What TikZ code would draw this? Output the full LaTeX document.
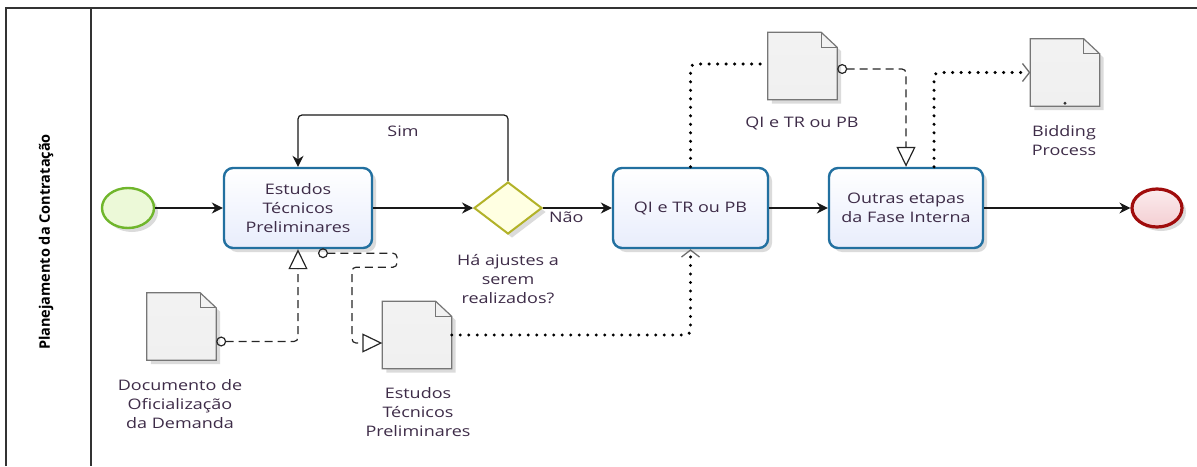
\documentclass[tikz,border=0pt]{standalone}
\usepackage{fontspec}
\setmainfont{Open Sans}[FakeStretch=1.24]
\newfontfamily\lanefont{Open Sans}
\usetikzlibrary{arrows.meta,shapes.geometric,shadows}

\definecolor{taskblue}{RGB}{34,112,160}
\definecolor{taskfill}{RGB}{232,237,252}
\definecolor{startgreen}{RGB}{112,182,44}
\definecolor{startfill}{RGB}{236,249,216}
\definecolor{endred}{RGB}{160,12,12}
\definecolor{endfill}{RGB}{244,206,210}
\definecolor{gateolive}{RGB}{178,178,40}
\definecolor{gatefill}{RGB}{255,255,226}
\definecolor{docgray}{RGB}{118,118,118}
\definecolor{docfill}{RGB}{240,240,240}
\definecolor{lblcol}{RGB}{62,44,72}
\definecolor{tipgray}{RGB}{110,110,110}

\tikzset{
  every node/.style={font=\fontsize{14.5}{19}\selectfont, text=lblcol},
  softshadow/.style={drop shadow={shadow xshift=4pt, shadow yshift=-4pt, opacity=0.14, fill=black}},
  task/.style={rectangle, rounded corners=9pt, draw=taskblue, line width=2.4pt,
    top color=white, bottom color=taskfill, minimum height=80pt, align=center,
    inner sep=2pt, softshadow},
  startev/.style={ellipse, draw=startgreen, line width=2.4pt, fill=startfill,
    minimum width=52pt, minimum height=40pt, inner sep=0pt, softshadow},
  endev/.style={ellipse, draw=endred, line width=3.2pt, top color=endfill!40, bottom color=endfill,
    minimum width=50pt, minimum height=38pt, inner sep=0pt, softshadow},
  gate/.style={diamond, draw=gateolive, line width=2pt, fill=gatefill,
    minimum width=68pt, minimum height=52pt, inner sep=0pt, softshadow},
  docnode/.style={rectangle, minimum width=69pt, minimum height=67pt, inner sep=0pt},
  docline/.style={draw=docgray, line width=1.2pt, top color=white!95!black, bottom color=docfill},
  lbl/.style={align=center},
  seq/.style={-{Stealth[length=11pt,width=11pt]}, line width=1.2pt, black!90},
  assoc/.style={{Circle[open,length=10pt,width=10pt]}-{Triangle[open,length=20pt,width=19pt]},
    line width=1.2pt, black!85, dash pattern=on 8pt off 5pt, rounded corners=4pt},
  dots/.style={line width=3.4pt, dash pattern=on 0pt off 8.5pt, line cap=round, rounded corners=5pt},
  barb/.style={-{Straight Barb[length=7pt,width=18pt,line width=1.3pt,color=tipgray]}}
}

\newcommand{\docshape}[3]{%
  \node[docnode] (#1) at (#2,#3) {};
  \draw[docline, softshadow] (#1.north west) -- ([xshift=-16pt]#1.north east)
    -- ([yshift=-15pt]#1.north east) -- (#1.south east) -- (#1.south west) -- cycle;
  \draw[docgray, line width=1.2pt] ([xshift=-16pt]#1.north east) |- ([yshift=-15pt]#1.north east);
}

\begin{document}
\begin{tikzpicture}[x=1pt,y=-1pt]
\useasboundingbox (0,0) rectangle (1197,466);

\draw[line width=1.3pt, black!80] (6,466) -- (6,8) -- (1197,8);
\draw[line width=1.3pt, black!80] (91,8) -- (91,466);
\node[rotate=90, text=black, font=\lanefont\bfseries\fontsize{14.5}{16}\selectfont] (lane) at (46,242) {Planejamento da Contratação};

\node[startev] (se) at (128,208) {};
\node[task, minimum width=148pt] (t1) at (298,208) {Estudos\\Técnicos\\Preliminares};
\node[gate] (g) at (508,208) {};
\node[task, minimum width=155pt] (t2) at (690.5,208) {QI e TR ou PB};
\node[task, minimum width=154pt] (t3) at (906,208) {Outras etapas\\da Fase Interna};
\node[endev] (ee) at (1157,208) {};

\docshape{d1}{181.5}{326.5}
\docshape{d2}{417}{335}
\docshape{d3}{802.5}{66}
\docshape{d4}{1065}{72.5}
\fill[black!80] ([yshift=3pt]d4.south) circle (1.6pt);

\node[lbl] (l1) at (180,404) {Documento de\\Oficialização\\da Demanda};
\node[lbl] (l2) at (418,412) {Estudos\\Técnicos\\Preliminares};
\node[lbl] (lg) at (508,279) {Há ajustes a\\serem\\realizados?};
\node[lbl] (l3) at (802,123) {QI e TR ou PB};
\node[lbl] (l4) at (1064,141) {Bidding\\Process};
\node (sim) at (403,131) {Sim};

\draw[seq] (se) -- (t1);
\draw[seq] (t1) -- (g);
\draw[seq] (g) -- node[below, pos=0.34] (nao) {Não} (t2);
\draw[seq] (t2) -- (t3);
\draw[seq] (t3) -- (ee);
\draw[seq, rounded corners=4pt] (g.north) -- ++(0,-66) -| (t1.north);

\draw[assoc] ([yshift=-15pt]d1.east) -| (t1.south);
\draw[assoc] ([shift={(20,4)}]t1.south) -- ++(79,0) -- ++(0,14) -- ++(-45,0) |- ([yshift=-8pt]d2.west);
\draw[assoc] ([yshift=-3pt]d3.east) -| (t3.north);

\draw[dots, barb] (d2.east) -| (t2.south);
\draw[dots] (t2.north) |- ([yshift=2pt]d3.west);
\draw[dots, barb] ([xshift=28pt]t3.north) |- (d4.west);
\end{tikzpicture}
\end{document}
